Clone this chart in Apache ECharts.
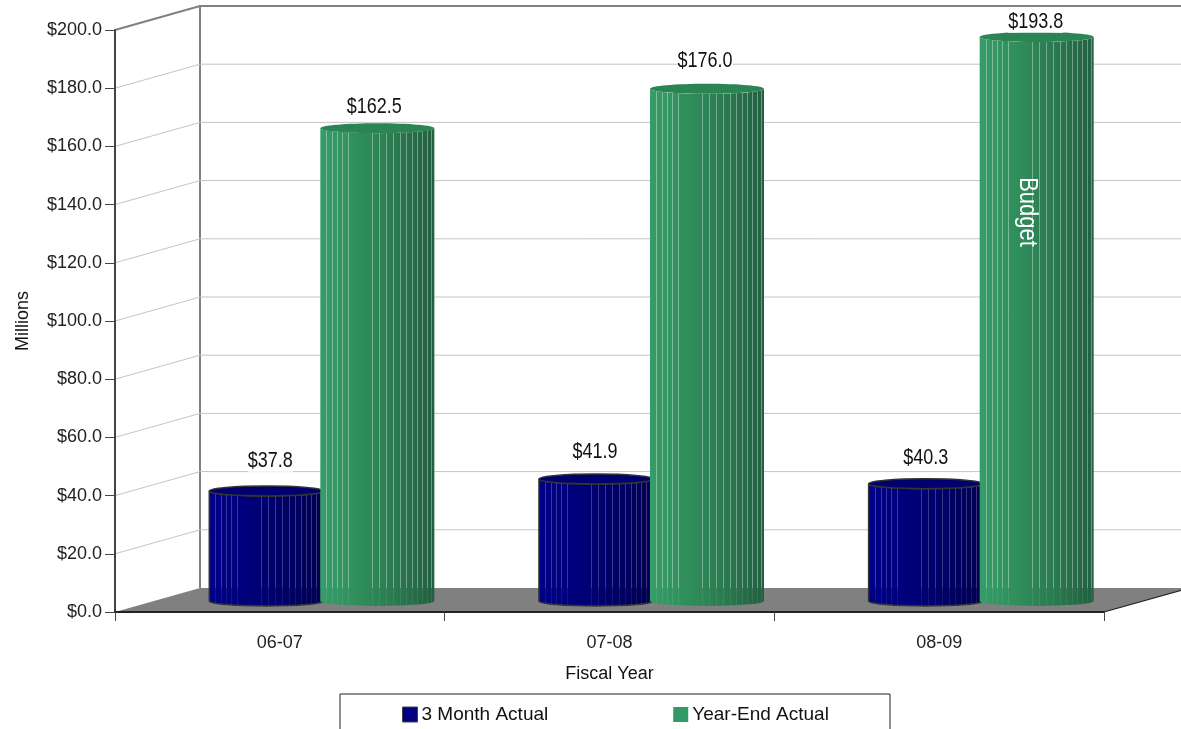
<!DOCTYPE html>
<html><head><meta charset="utf-8">
<style>html,body{margin:0;padding:0;background:#fff;overflow:hidden}#c{width:1181px;height:729px}</style>
<script src="https://cdn.jsdelivr.net/npm/echarts@6/dist/echarts.min.js"></script>
</head><body><div id="c"></div>
<script>
const categories = ['06-07', '07-08', '08-09'];
const threeMonth = [37.8, 41.9, 40.3];
const yearEnd = [162.5, 176.0, 193.8];
const yTicks = [0, 20, 40, 60, 80, 100, 120, 140, 160, 180, 200];
const seriesNames = ['3 Month Actual', 'Year-End Actual'];
const note = { series: 1, index: 2, text: 'Budget' };

const FONT = '"Liberation Sans",Arial,sans-serif';
const DX = 85, DY = -24;               // depth of the 3D box
const CX = 42, CY = -11;               // cylinders stand mid-depth
const BARW = 114, RY = 5, SHIFT = 55.5;
const seams = [6, 12, 17, 22, 28, 52, 59, 66, 73, 80, 86, 92, 97, 102, 107, 111];
// hand placement of the value labels: [dx, lift above the cylinder top]
const labelNudge = [
  [[4, 30], [-3, 21]], [[-1, 27], [-2, 28]], [[0, 26], [-1, 15]]
];

function cylinder(values, sIdx, grad, topFill, stroke, seamAlpha) {
  return function (params, api) {
    const i = api.value(0), v = api.value(1);
    const base = api.coord([i, 0]), top = api.coord([i, v]);
    const cx = base[0] + CX + (sIdx === 0 ? -SHIFT : SHIFT), r = BARW / 2;
    const yb = base[1] + CY, yt = top[1] + CY, x0 = cx - r, x1 = cx + r;
    const floorBack = base[1] + DY;
    const kids = [];
    kids.push({ type: 'path', shape: {
        pathData: `M${x0} ${yt}L${x0} ${yb}A${r} ${RY} 0 0 0 ${x1} ${yb}L${x1} ${yt}A${r} ${RY} 0 0 1 ${x0} ${yt}Z`
      }, style: { fill: new echarts.graphic.LinearGradient(0, 0, 1, 0, grad), stroke: stroke || 'none', lineWidth: stroke ? 1.6 : 0 } });
    seams.forEach(s => {
      const x = Math.round(x0 + s) + 0.5;
      const t = (x - cx) / r, dyCurve = RY * Math.sqrt(Math.max(0, 1 - t * t));
      kids.push({ type: 'line', shape: { x1: x, y1: yt + dyCurve, x2: x, y2: floorBack }, style: { stroke: `rgba(255,255,255,${seamAlpha})`, lineWidth: 1 } });
      kids.push({ type: 'line', shape: { x1: x, y1: floorBack, x2: x, y2: yb + dyCurve }, style: { stroke: 'rgba(255,255,255,.08)', lineWidth: 1 } });
    });
    kids.push({ type: 'ellipse', shape: { cx, cy: yt, rx: r, ry: RY }, style: { fill: topFill, stroke: stroke || 'none', lineWidth: stroke ? 1.5 : 0 } });
    const n = labelNudge[i][sIdx];
    kids.push({ type: 'text', x: cx + n[0], y: yt - RY - n[1] + 5, scaleY: 1.2, style: {
        text: '$' + v.toFixed(1), font: '18px ' + FONT, fill: '#111', align: 'center', verticalAlign: 'middle', backgroundColor: '#fff' } });
    if (note.series === sIdx && note.index === i) {
      kids.push({ type: 'text', x: cx - 9, y: yt + 175, rotation: -Math.PI / 2, scaleY: 1.2, style: {
          text: note.text, font: '22px ' + FONT, fill: '#fff', align: 'center', verticalAlign: 'middle' } });
    }
    return { type: 'group', children: kids };
  };
}

function walls(params, api) {
  const v = api.value(1), p = api.coord([0, v]), sys = params.coordSys;
  const x = sys.x, y = p[1], right = sys.x + sys.width;
  const isTop = v === yTicks[yTicks.length - 1], isBase = v === 0;
  const kids = [];
  if (isBase) {
    kids.push({ type: 'polygon', shape: { points: [[x, y], [x + DX, y + DY], [right + DX, y + DY], [right, y]] }, style: { fill: '#808080' } });
    kids.push({ type: 'line', shape: { x1: right, y1: y, x2: right + DX, y2: y + DY }, style: { stroke: '#222', lineWidth: 1.2 } });
    kids.push({ type: 'line', shape: { x1: x + DX, y1: y + DY, x2: x + DX, y2: sys.y + DY }, style: { stroke: '#808080', lineWidth: 2 } });
  } else {
    kids.push({ type: 'polyline', shape: { points: [[x, y], [x + DX, y + DY], [right + DX, y + DY]] },
      style: { fill: 'none', stroke: isTop ? '#808080' : '#c4c4c4', lineWidth: isTop ? 2 : 1 } });
  }
  return { type: 'group', children: kids };
}

const blueStops = [{offset:0,color:'#000088'},{offset:.3,color:'#00007c'},{offset:.65,color:'#000068'},{offset:1,color:'#000050'}];
const greenStops = [{offset:0,color:'#369c6a'},{offset:.3,color:'#30905c'},{offset:.65,color:'#2b7a50'},{offset:1,color:'#225f40'}];

const chart = echarts.init(document.getElementById('c'));
chart.setOption({
  animation: false,
  backgroundColor: '#fff',
  textStyle: { fontFamily: FONT },
  grid: { left: 115, right: 77, top: 30, bottom: 117, outerBoundsMode: 'none' },
  graphic: [{ type: 'rect', z: 10, shape: { x: 340, y: 694, width: 550, height: 60 }, style: { fill: 'none', stroke: '#222', lineWidth: 1 } }],
  legend: {
    left: 397, top: 700, itemWidth: 15, itemHeight: 15, itemGap: 125, selectedMode: false,
    textStyle: { fontSize: 19, color: '#111', fontFamily: FONT, padding: [0, 0, 0, -1] },
    data: [
      { name: seriesNames[0], icon: 'rect', itemStyle: { color: '#000080', borderColor: '#444', borderWidth: 1 } },
      { name: seriesNames[1], icon: 'rect', itemStyle: { color: '#339966', borderWidth: 0 } }
    ]
  },
  xAxis: {
    type: 'category', data: categories, z: 5,
    name: 'Fiscal Year', nameLocation: 'middle', nameGap: 53,
    nameTextStyle: { fontSize: 18, color: '#111', fontFamily: FONT },
    axisLine: { lineStyle: { color: '#222', width: 2 } },
    axisTick: { show: true, alignWithLabel: false, length: 9, lineStyle: { color: '#444', width: 1 } },
    axisLabel: { fontSize: 18, color: '#222', margin: 22, fontFamily: FONT }
  },
  yAxis: {
    type: 'value', min: 0, max: 200, interval: 20, z: 5,
    name: 'Millions', nameLocation: 'middle', nameGap: 83,
    nameTextStyle: { fontSize: 18, color: '#111', fontFamily: FONT },
    axisLine: { show: true, lineStyle: { color: '#444', width: 2 } },
    axisTick: { show: true, length: 10, lineStyle: { color: '#444', width: 1 } },
    splitLine: { show: false },
    axisLabel: { fontSize: 18, color: '#222', margin: 13, fontFamily: FONT, formatter: v => '$' + v.toFixed(1) }
  },
  series: [
    { type: 'custom', name: 'walls', silent: true, z: 1, clip: false, renderItem: walls, data: yTicks.map(v => [0, v]), encode: { x: 0, y: 1 } },
    { type: 'custom', name: seriesNames[0], z: 2, clip: false, itemStyle: { color: '#000080' },
      renderItem: cylinder(threeMonth, 0, blueStops, '#00006e', '#333', .22), data: threeMonth.map((v, i) => [i, v]), encode: { x: 0, y: 1 } },
    { type: 'custom', name: seriesNames[1], z: 3, clip: false, itemStyle: { color: '#339966' },
      renderItem: cylinder(yearEnd, 1, greenStops, '#2a8453', null, .36), data: yearEnd.map((v, i) => [i, v]), encode: { x: 0, y: 1 } }
  ]
});
</script></body></html>
